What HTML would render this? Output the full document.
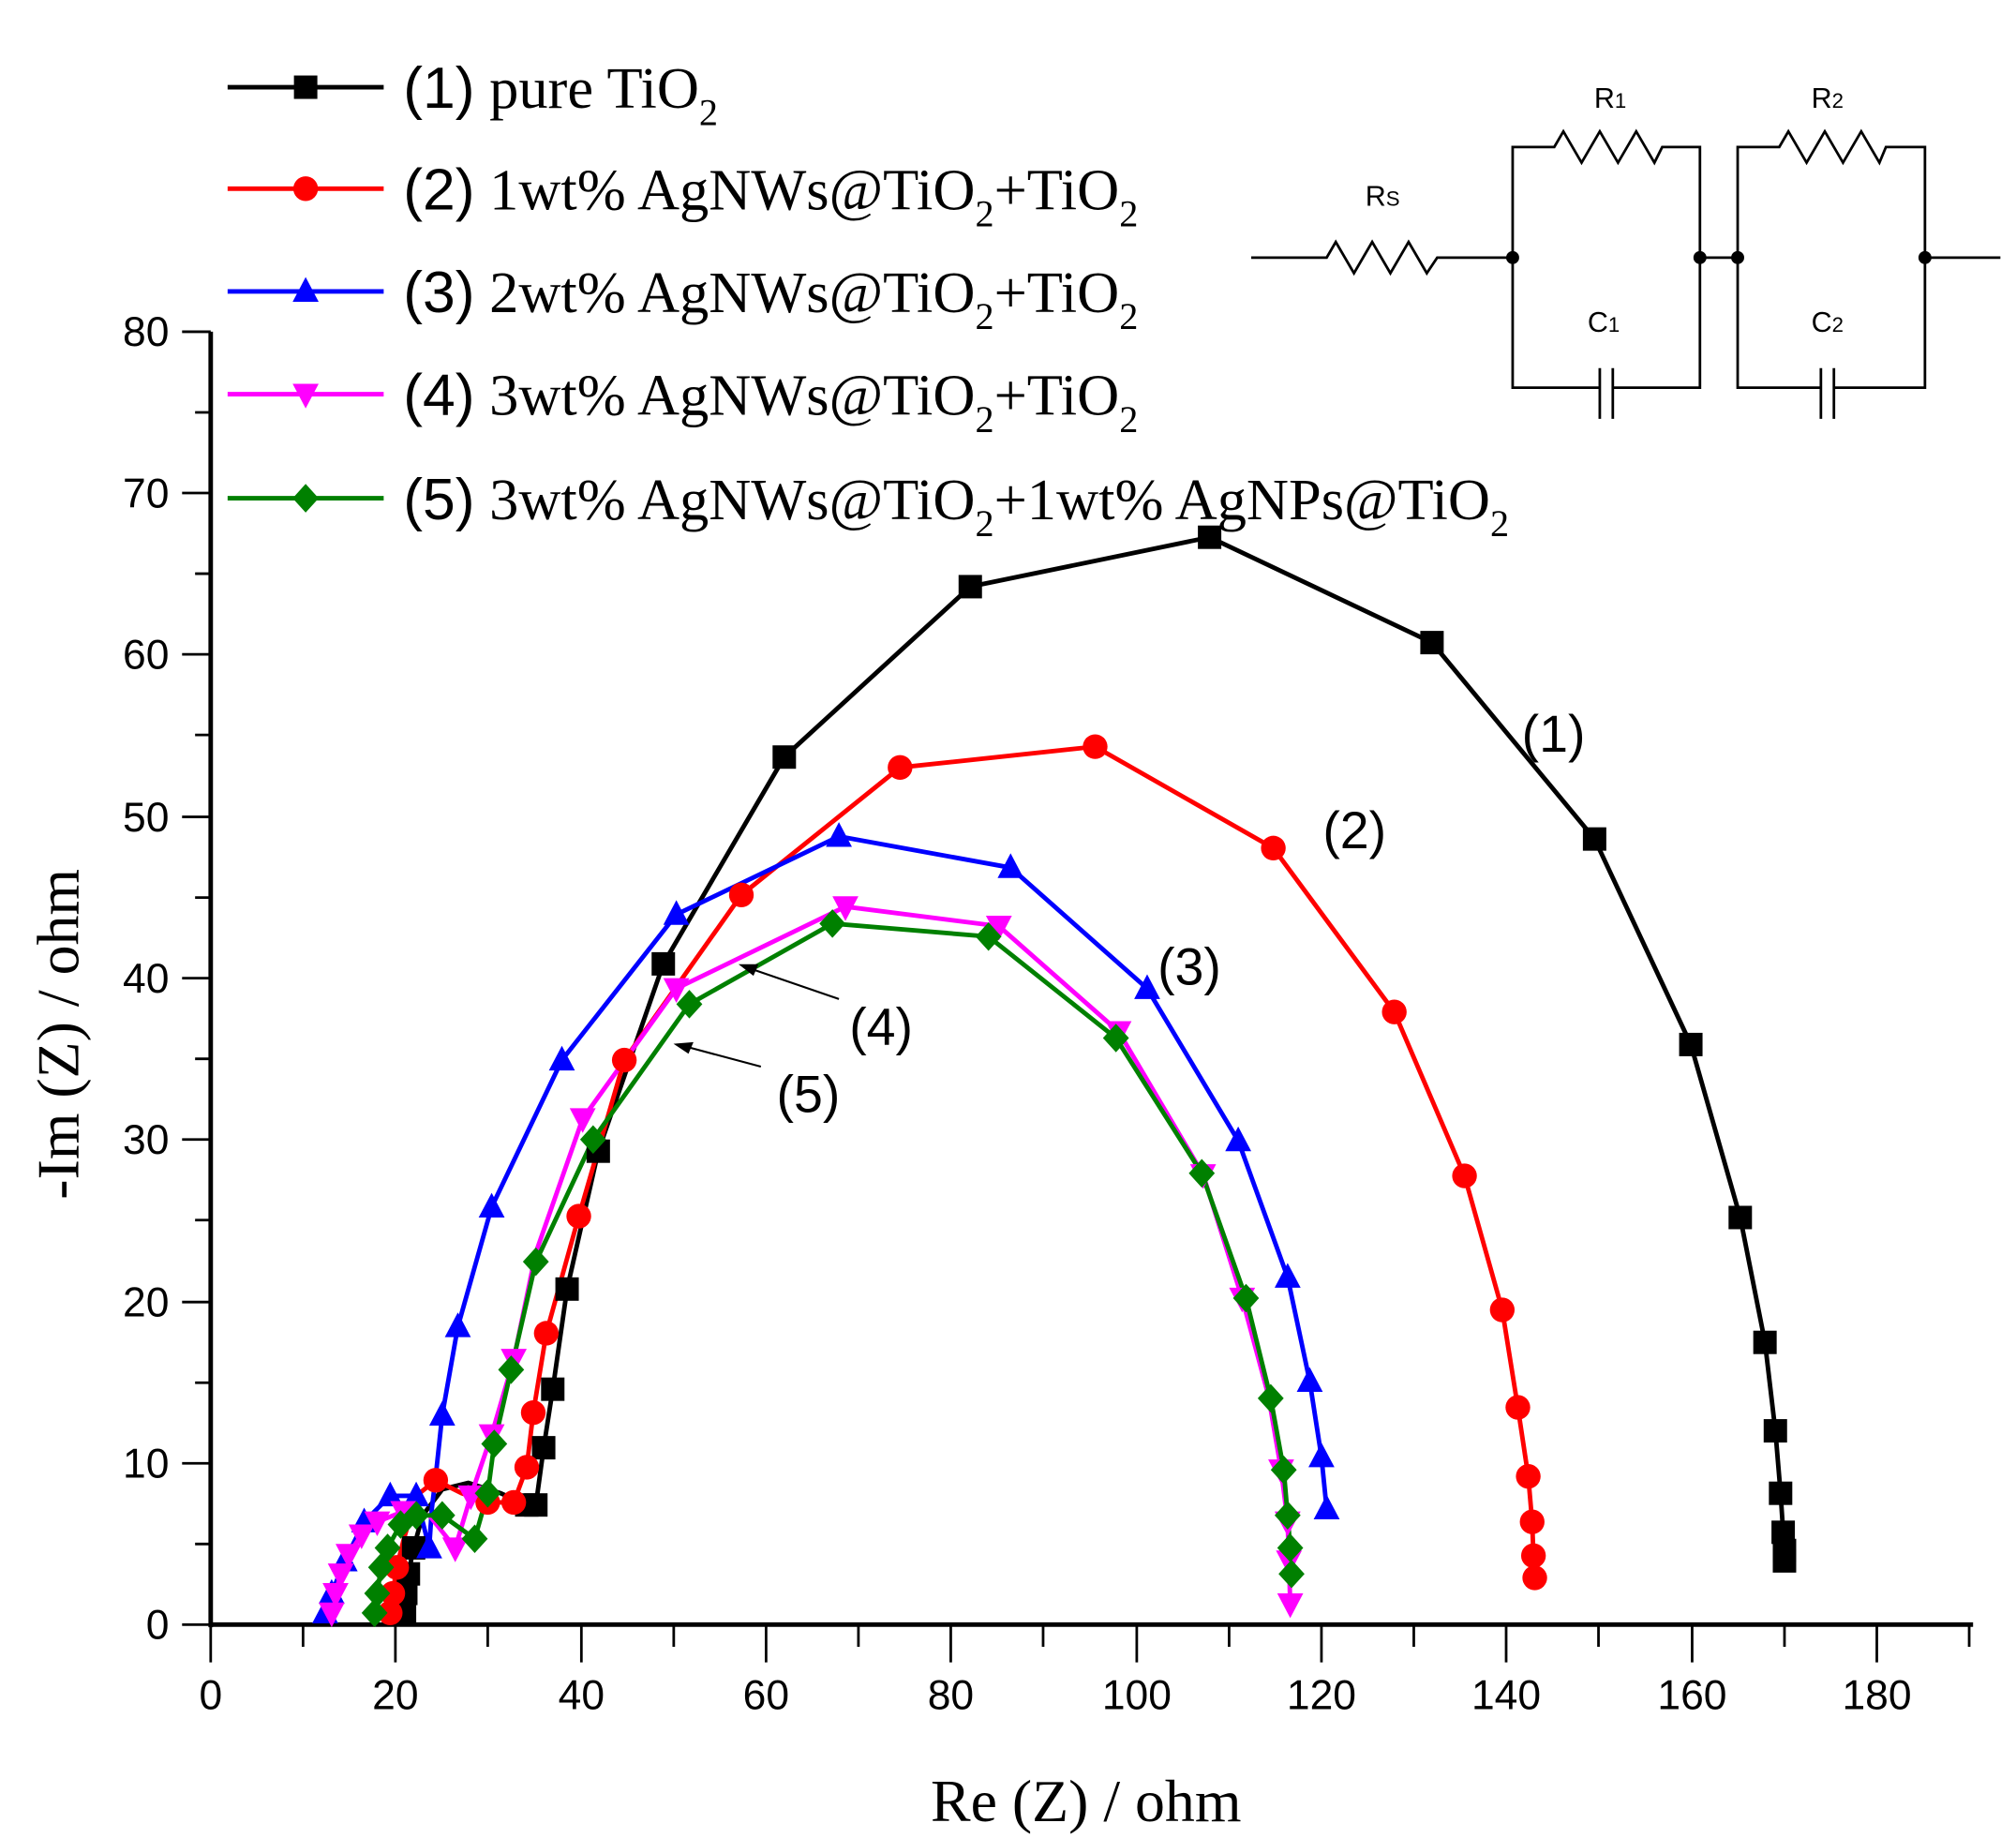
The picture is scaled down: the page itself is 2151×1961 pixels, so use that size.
<!DOCTYPE html>
<html><head><meta charset="utf-8"><style>html,body{margin:0;padding:0;background:#fff}svg{display:block}</style></head>
<body>
<svg width="2151" height="1961" viewBox="0 0 1550 1413" xmlns="http://www.w3.org/2000/svg">
<defs>
<rect id="sq" x="-9" y="-9" width="18" height="18" fill="#000"/>
<circle id="ci" r="9.5" fill="#f00"/>
<polygon id="tu" points="0,-11 10,8 -10,8" fill="#00f"/>
<polygon id="td" points="0,11 10,-8 -10,-8" fill="#f0f"/>
<polygon id="di" points="0,-11 10,0 0,11 -10,0" fill="#008000"/>
</defs>
<g stroke="#000" stroke-width="3" fill="none">
<line x1="162" y1="1249" x2="1517" y2="1249" stroke-width="3.5"/>
<line x1="162" y1="255" x2="162" y2="1251" stroke-width="3.5"/>
</g>
<g stroke="#000" stroke-width="2">
<path d="M140 255H162M140 379H162M140 503H162M140 628H162M140 752H162M140 876H162M140 1001H162M140 1125H162M140 1249H162"/>
<path d="M150 317H162M150 441H162M150 565H162M150 690H162M150 814H162M150 938H162M150 1063H162M150 1187H162"/>
<path d="M162 1249V1278M304 1249V1278M447 1249V1278M589 1249V1278M731 1249V1278M874 1249V1278M1016 1249V1278M1158 1249V1278M1301 1249V1278M1443 1249V1278"/>
<path d="M233 1249V1266M375 1249V1266M518 1249V1266M660 1249V1266M802 1249V1266M945 1249V1266M1087 1249V1266M1229 1249V1266M1372 1249V1266M1514 1249V1266"/>
</g>
<g font-family="Liberation Sans, sans-serif" font-size="32" fill="#000" text-anchor="end">
<text x="130" y="266">80</text><text x="130" y="390">70</text><text x="130" y="514">60</text><text x="130" y="639">50</text><text x="130" y="763">40</text><text x="130" y="887">30</text><text x="130" y="1012">20</text><text x="130" y="1136">10</text><text x="130" y="1260">0</text>
</g>
<g font-family="Liberation Sans, sans-serif" font-size="32" fill="#000" text-anchor="middle">
<text x="162" y="1314">0</text><text x="304" y="1314">20</text><text x="447" y="1314">40</text><text x="589" y="1314">60</text><text x="731" y="1314">80</text><text x="874" y="1314">100</text><text x="1016" y="1314">120</text><text x="1158" y="1314">140</text><text x="1301" y="1314">160</text><text x="1443" y="1314">180</text>
</g>
<text x="835" y="1400" font-family="Liberation Serif, serif" font-size="46" text-anchor="middle">Re (Z) / ohm</text>
<text transform="translate(60,795) rotate(-90)" font-family="Liberation Serif, serif" font-size="46" text-anchor="middle">-Im (Z) / ohm</text>

<g fill="none" stroke-width="3.5" stroke-linejoin="round">
<polyline stroke="#000" points="311,1240 312,1225 314,1210 318,1190 325,1165 340,1145 360,1140 385,1148 405,1157 412,1157 418,1113 425,1068 436,991 460,885 510,741 603,582 746,451 930,413 1101,494 1226,645 1300,803 1338,936 1357,1032 1365,1100 1369,1148 1371,1178 1372,1192 1372,1200"/>
<polyline stroke="#f00" points="300,1240 302,1225 305,1205 310,1185 320,1150 335,1138 355,1148 375,1155 395,1155 405,1128 410,1086 420,1025 445,935 480,815 570,688 692,590 842,574 979,652 1072,778 1126,904 1155,1007 1167,1082 1175,1135 1178,1170 1179,1196 1180,1213"/>
<polyline stroke="#00f" points="250,1240 255,1225 265,1200 280,1170 300,1150 320,1150 330,1190 332,1160 335,1135 340,1088 352,1020 378,928 432,815 520,703 645,643 777,667 882,760 952,877 990,982 1007,1062 1016,1120 1020,1160"/>
<polyline stroke="#f0f" points="255,1240 258,1225 262,1210 268,1195 278,1180 290,1170 310,1162 330,1165 350,1190 362,1150 378,1103 395,1045 412,963 448,860 520,760 650,697 768,712 860,793 925,903 955,998 975,1072 985,1130 990,1170 991,1200 992,1233"/>
<polyline stroke="#008000" points="288,1240 290,1225 293,1205 298,1190 308,1172 320,1165 340,1165 365,1183 375,1148 380,1110 393,1053 412,970 456,876 530,772 640,710 760,720 858,798 924,902 958,998 977,1075 987,1130 990,1165 992,1190 993,1210"/>
</g>
<g>
<use href="#sq" x="311" y="1240"/><use href="#sq" x="312" y="1225"/><use href="#sq" x="314" y="1210"/><use href="#sq" x="318" y="1190"/><use href="#sq" x="405" y="1157"/><use href="#sq" x="412" y="1157"/><use href="#sq" x="418" y="1113"/><use href="#sq" x="425" y="1068"/><use href="#sq" x="436" y="991"/><use href="#sq" x="460" y="885"/><use href="#sq" x="510" y="741"/><use href="#sq" x="603" y="582"/><use href="#sq" x="746" y="451"/><use href="#sq" x="930" y="413"/><use href="#sq" x="1101" y="494"/><use href="#sq" x="1226" y="645"/><use href="#sq" x="1300" y="803"/><use href="#sq" x="1338" y="936"/><use href="#sq" x="1357" y="1032"/><use href="#sq" x="1365" y="1100"/><use href="#sq" x="1369" y="1148"/><use href="#sq" x="1371" y="1178"/><use href="#sq" x="1372" y="1192"/><use href="#sq" x="1372" y="1200"/>
</g>
<g>
<use href="#ci" x="335" y="1138"/><use href="#ci" x="375" y="1155"/><use href="#ci" x="395" y="1155"/><use href="#ci" x="405" y="1128"/><use href="#ci" x="410" y="1086"/><use href="#ci" x="420" y="1025"/><use href="#ci" x="445" y="935"/><use href="#ci" x="480" y="815"/><use href="#ci" x="570" y="688"/><use href="#ci" x="692" y="590"/><use href="#ci" x="842" y="574"/><use href="#ci" x="979" y="652"/><use href="#ci" x="1072" y="778"/><use href="#ci" x="1126" y="904"/><use href="#ci" x="1155" y="1007"/><use href="#ci" x="1167" y="1082"/><use href="#ci" x="1175" y="1135"/><use href="#ci" x="1178" y="1170"/><use href="#ci" x="1179" y="1196"/><use href="#ci" x="1180" y="1213"/><use href="#ci" x="300" y="1240"/><use href="#ci" x="302" y="1225"/><use href="#ci" x="305" y="1205"/>
</g>
<g>
<use href="#tu" x="250" y="1240"/><use href="#tu" x="255" y="1225"/><use href="#tu" x="265" y="1200"/><use href="#tu" x="280" y="1170"/><use href="#tu" x="300" y="1150"/><use href="#tu" x="320" y="1150"/><use href="#tu" x="330" y="1190"/><use href="#tu" x="340" y="1088"/><use href="#tu" x="352" y="1020"/><use href="#tu" x="378" y="928"/><use href="#tu" x="432" y="815"/><use href="#tu" x="520" y="703"/><use href="#tu" x="645" y="643"/><use href="#tu" x="777" y="667"/><use href="#tu" x="882" y="760"/><use href="#tu" x="952" y="877"/><use href="#tu" x="990" y="982"/><use href="#tu" x="1007" y="1062"/><use href="#tu" x="1016" y="1120"/><use href="#tu" x="1020" y="1160"/>
</g>
<g>
<use href="#td" x="255" y="1240"/><use href="#td" x="258" y="1225"/><use href="#td" x="262" y="1210"/><use href="#td" x="268" y="1195"/><use href="#td" x="278" y="1180"/><use href="#td" x="290" y="1170"/><use href="#td" x="310" y="1162"/><use href="#td" x="350" y="1190"/><use href="#td" x="362" y="1150"/><use href="#td" x="378" y="1103"/><use href="#td" x="395" y="1045"/><use href="#td" x="448" y="860"/><use href="#td" x="520" y="760"/><use href="#td" x="650" y="697"/><use href="#td" x="768" y="712"/><use href="#td" x="860" y="793"/><use href="#td" x="925" y="903"/><use href="#td" x="955" y="998"/><use href="#td" x="985" y="1130"/><use href="#td" x="990" y="1170"/><use href="#td" x="991" y="1200"/><use href="#td" x="992" y="1233"/>
</g>
<g>
<use href="#di" x="288" y="1240"/><use href="#di" x="290" y="1225"/><use href="#di" x="293" y="1205"/><use href="#di" x="298" y="1190"/><use href="#di" x="308" y="1172"/><use href="#di" x="320" y="1165"/><use href="#di" x="340" y="1165"/><use href="#di" x="365" y="1183"/><use href="#di" x="375" y="1148"/><use href="#di" x="380" y="1110"/><use href="#di" x="393" y="1053"/><use href="#di" x="412" y="970"/><use href="#di" x="456" y="876"/><use href="#di" x="530" y="772"/><use href="#di" x="640" y="710"/><use href="#di" x="760" y="720"/><use href="#di" x="858" y="798"/><use href="#di" x="924" y="902"/><use href="#di" x="958" y="998"/><use href="#di" x="977" y="1075"/><use href="#di" x="987" y="1130"/><use href="#di" x="990" y="1165"/><use href="#di" x="992" y="1190"/><use href="#di" x="993" y="1210"/>
</g>

<g font-family="Liberation Sans, sans-serif" font-size="40" fill="#000">
<text x="1170" y="578">(1)</text><text x="1017" y="652">(2)</text><text x="890" y="757">(3)</text><text x="653" y="803">(4)</text><text x="597" y="855">(5)</text>
</g>
<g stroke="#000" stroke-width="1.5" fill="#000">
<line x1="645" y1="768" x2="575" y2="744"/><polygon points="570,742 582,742 579,749" />
<line x1="585" y1="820" x2="525" y2="804"/><polygon points="520,803 532,802 529,809"/>
</g>

<g stroke-width="3.5">
<line x1="175" y1="67" x2="295" y2="67" stroke="#000"/><use href="#sq" x="235" y="67"/>
<line x1="175" y1="145" x2="295" y2="145" stroke="#f00"/><use href="#ci" x="235" y="145"/>
<line x1="175" y1="224" x2="295" y2="224" stroke="#00f"/><use href="#tu" x="235" y="224"/>
<line x1="175" y1="303" x2="295" y2="303" stroke="#f0f"/><use href="#td" x="235" y="303"/>
<line x1="175" y1="383" x2="295" y2="383" stroke="#008000"/><use href="#di" x="235" y="383"/>
</g>
<g font-family="Liberation Serif, serif" font-size="45" fill="#000">
<text x="310" y="83"><tspan font-family="Liberation Sans, sans-serif">(1)</tspan> pure TiO<tspan font-size="29" dy="13">2</tspan></text>
<text x="310" y="161"><tspan font-family="Liberation Sans, sans-serif">(2)</tspan> 1wt% AgNWs@TiO<tspan font-size="29" dy="13">2</tspan><tspan dy="-13">+TiO</tspan><tspan font-size="29" dy="13">2</tspan></text>
<text x="310" y="240"><tspan font-family="Liberation Sans, sans-serif">(3)</tspan> 2wt% AgNWs@TiO<tspan font-size="29" dy="13">2</tspan><tspan dy="-13">+TiO</tspan><tspan font-size="29" dy="13">2</tspan></text>
<text x="310" y="319"><tspan font-family="Liberation Sans, sans-serif">(4)</tspan> 3wt% AgNWs@TiO<tspan font-size="29" dy="13">2</tspan><tspan dy="-13">+TiO</tspan><tspan font-size="29" dy="13">2</tspan></text>
<text x="310" y="399"><tspan font-family="Liberation Sans, sans-serif">(5)</tspan> 3wt% AgNWs@TiO<tspan font-size="29" dy="13">2</tspan><tspan dy="-13">+1wt% AgNPs@TiO</tspan><tspan font-size="29" dy="13">2</tspan></text>
</g>

<g stroke="#000" stroke-width="2" fill="none">
<path d="M962 198H1020L1027 186L1041 210L1055 186L1069 210L1083 186L1097 210L1105 198H1163"/>
<path d="M1163 198V113H1195L1202 101L1216 125L1230 101L1244 125L1258 101L1272 125L1278 113H1307V198"/>
<path d="M1163 198V298H1230M1240 298H1307V198"/>
<path d="M1230 283V322M1240 283V322"/>
<path d="M1307 198H1336"/>
<path d="M1336 198V113H1368L1375 101L1389 125L1403 101L1417 125L1431 101L1445 125L1450 113H1480V198"/>
<path d="M1336 198V298H1400M1410 298H1480V198"/>
<path d="M1400 283V322M1410 283V322"/>
<path d="M1480 198H1538"/>
</g>
<g fill="#000"><circle cx="1163" cy="198" r="5"/><circle cx="1307" cy="198" r="5"/><circle cx="1336" cy="198" r="5"/><circle cx="1480" cy="198" r="5"/></g>
<g font-family="Liberation Sans, sans-serif" font-size="22" fill="#000" text-anchor="middle">
<text x="1063" y="158">R<tspan font-size="16">S</tspan></text>
<text x="1238" y="83">R<tspan font-size="16">1</tspan></text>
<text x="1405" y="83">R<tspan font-size="16">2</tspan></text>
<text x="1233" y="255">C<tspan font-size="16">1</tspan></text>
<text x="1405" y="255">C<tspan font-size="16">2</tspan></text>
</g>
</svg>
</body></html>
